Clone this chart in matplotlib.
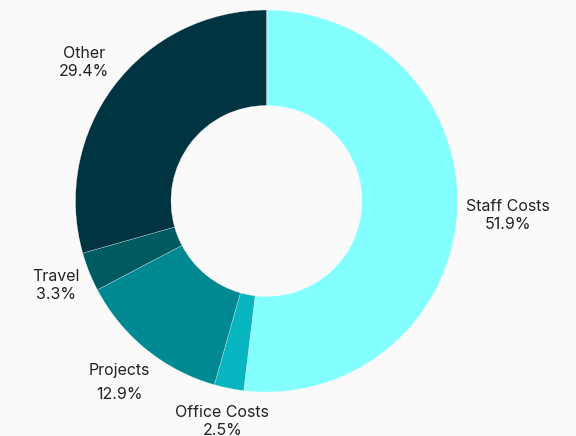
import matplotlib.pyplot as plt
import numpy as np

# budget breakdown (%)
categories = ['Staff Costs', 'Office Costs', 'Projects', 'Travel', 'Other']
shares = [51.9, 2.5, 12.9, 3.3, 29.4]
colors = ['#84FFFF', '#06B5BF', '#008893', '#005A62', '#003440']

plt.rcParams['font.family'] = ['Inter', 'DejaVu Sans']

fig = plt.figure(figsize=(5.76, 4.36), dpi=100, facecolor='#FAFAFA')
ax = fig.add_axes([0, 0, 1, 1])
ax.set_facecolor('#FAFAFA')

wedges, _ = ax.pie(shares, colors=colors, startangle=90, counterclock=False,
                   radius=1, wedgeprops=dict(width=0.5, edgecolor='#FAFAFA', linewidth=0.2))

# donut centred at (266.5, 201) px, radius 191 px
px = 1 / 191
ax.set_aspect('auto')
ax.set_xlim(-266.5 * px, (576 - 266.5) * px)
ax.set_ylim(-(436 - 201) * px, 201 * px)
ax.axis('off')

# outside labels, pushed out so the text box clears the ring
fig.canvas.draw()
renderer = fig.canvas.get_renderer()
gap = 8 * px
for w, name, val in zip(wedges, categories, shares):
    ang = np.deg2rad((w.theta1 + w.theta2) / 2)
    c, s = np.cos(ang), np.sin(ang)
    # the Projects label sits with a wider line gap in the original
    spacing = 1.8 if name == 'Projects' else 1.25
    t = ax.text(0, 0, f'{name}\n{val:.1f}%', ha='center', va='center',
                fontsize=11.5, color='#222222', linespacing=spacing)
    bb = t.get_window_extent(renderer)
    half = (bb.width / 2 * abs(c) + bb.height / 2 * abs(s)) * px
    r = 1 + gap + half
    t.set_position((r * c, r * s))

fig.savefig('out.png', dpi=100, facecolor=fig.get_facecolor())
